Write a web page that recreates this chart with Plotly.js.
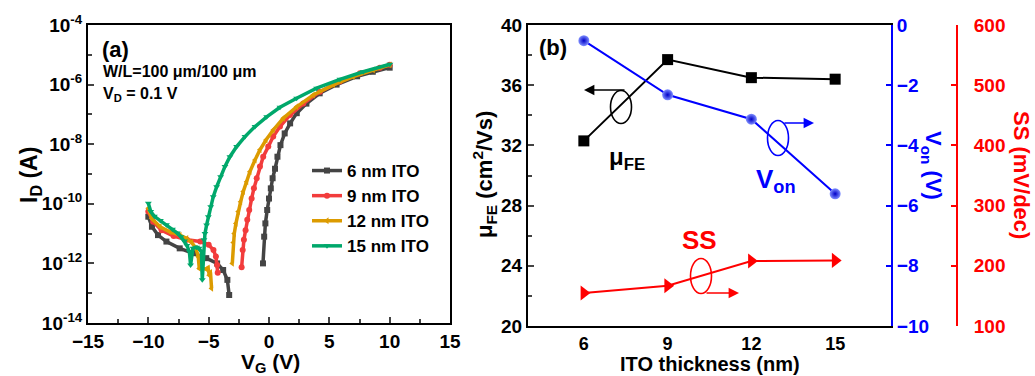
<!DOCTYPE html>
<html><head><meta charset="utf-8">
<script src="https://cdn.plot.ly/plotly-3.0.1.min.js"></script>
<style>html,body{margin:0;padding:0;background:#fff}#c{width:1035px;height:376px}</style>
</head><body><div id="c"></div>
<script>
// ---- Panel (a): transfer curves (VG in V, ID in A) ----
const vg6 = [-10.0,-9.7,-9.2,-8.5,-7.4,-6.3,-5.2,-4.3,-3.8,-3.45,-3.3,null,-0.5,-0.4,-0.3,-0.15,0.0,0.15,0.3,0.5,0.7,0.95,1.3,1.75,2.3,3.1,4.2,5.6,7.3,8.6,10.0];
const id6 = [3.7e-11,1.7e-11,8.9e-12,5.4e-12,3.2e-12,2.2e-12,1.5e-12,1.0e-12,6.0e-13,2.8e-13,8.7e-14,null,1.0e-12,7.9e-12,2.2e-11,6.2e-11,1.5e-10,3.3e-10,7.2e-10,1.5e-9,3.8e-9,9.3e-9,2.3e-8,5.0e-8,1.1e-7,2.3e-7,5.1e-7,1.0e-6,1.9e-6,2.7e-6,3.7e-6];

const vg9 = [-10.0,-9.6,-8.9,-7.9,-6.8,-5.7,-5.0,-4.6,-4.4,-4.3,-4.25,null,-2.27,-2.18,-2.08,-1.94,-1.8,-1.64,-1.44,-1.25,-1.02,-0.75,-0.48,-0.06,0.35,0.91,1.74,2.84,4.22,5.88,7.54,9.19,10.0];
const id9 = [5.5e-11,2.5e-11,1.3e-11,8.3e-12,6.2e-12,5.4e-12,4.2e-12,2.8e-12,1.7e-12,8.9e-13,4.9e-13,null,7.4e-13,2.8e-12,6.2e-12,1.3e-11,2.9e-11,6.2e-11,1.5e-10,3.3e-10,7.2e-10,1.8e-9,3.8e-9,8.3e-9,1.8e-8,3.9e-8,9.5e-8,2.3e-7,5.8e-7,1.26e-6,2.4e-6,3.7e-6,4.6e-6];

const vg12 = [-10.0,-9.72,-9.03,-8.21,-7.38,-6.82,-6.41,-6.05,-5.86,-5.78,-5.2,-5.05,-4.95,-4.85,-4.76,null,-3.04,-2.96,-2.88,-2.74,-2.55,-2.35,-2.13,-1.85,-1.58,-1.16,-0.75,-0.25,0.35,1.18,2.29,3.67,5.33,6.98,8.64,10.02];
const id12 = [7.1e-11,3.2e-11,1.7e-11,1.15e-11,8.9e-12,6.9e-12,5.0e-12,3.2e-12,1.66e-12,6.8e-13,6.5e-13,7.0e-13,4.0e-13,5.0e-13,1.45e-13,null,1.0e-12,5.0e-12,1.0e-11,2.2e-11,5.5e-11,1.17e-10,2.6e-10,5.5e-10,1.2e-9,2.95e-9,6.5e-9,1.38e-8,3.0e-8,7.4e-8,1.8e-7,4.5e-7,9.8e-7,1.86e-6,3.1e-6,4.6e-6];

const vg15 = [-10.0,-9.8,-9.5,-9.0,-8.5,-8.0,-7.6,-7.3,-7.0,-6.8,-6.6,-6.5,-6.3,-6.0,-5.8,-5.6,-5.53,-5.39,-5.31,-5.17,-5.03,-4.83,-4.62,-4.34,-4.01,-3.65,-3.24,-2.68,-1.99,-1.16,-0.19,0.91,2.29,3.95,5.88,7.81,10.02];
const id15 = [1.05e-10,5.5e-11,3.8e-11,2.75e-11,2.0e-11,1.4e-11,1.05e-11,7.9e-12,5.6e-12,4.0e-12,2.5e-12,8.9e-13,3.2e-12,3.5e-12,3.2e-12,2.5e-12,2.8e-13,6.2e-12,1.0e-11,1.95e-11,3.7e-11,7.9e-11,1.74e-10,3.7e-10,8.1e-10,1.8e-9,3.8e-9,8.3e-9,1.8e-8,3.9e-8,8.3e-8,1.74e-7,3.5e-7,7.6e-7,1.5e-6,2.7e-6,4.8e-6];

const seriesNames = ['6 nm ITO','9 nm ITO','12 nm ITO','15 nm ITO'];
const xTicksA = [-15,-10,-5,0,5,10,15];
const yTicksA = [1e-14,1e-12,1e-10,1e-8,1e-6,1e-4];
const yTickTextA = ['10<sup>-14</sup>','10<sup>-12</sup>','10<sup>-10</sup>','10<sup>-8</sup>','10<sup>-6</sup>','10<sup>-4</sup>'];
const yMinorA = [1e-13,1e-11,1e-9,1e-7,1e-5];

// ---- Panel (b): parameters vs ITO thickness ----
const thickness = [6,9,12,15];
const muFE = [32.3,37.7,36.5,36.4];
const Von = [-0.52,-2.32,-3.13,-5.61];
const SS = [155,167,208,209];

const FONT = 'Liberation Sans, Arial, Helvetica, sans-serif';
const f = (size,color) => ({family:FONT,size:size,color:color||'#000',weight:700});

const cols = ['#444444','#f23c3c','#dc9b00','#00a86b'];
const syms = ['square','circle','triangle-left','triangle-down'];
const xs = [vg6,vg9,vg12,vg15], ys = [id6,id9,id12,id15];

const traces = [];
for (let i=0;i<4;i++){
  traces.push({x:xs[i],y:ys[i],name:seriesNames[i],type:'scatter',mode:'lines+markers',
    xaxis:'x',yaxis:'y',connectgaps:false,
    line:{color:cols[i],width:3.5},marker:{symbol:syms[i],size:6,color:cols[i]}});
}
traces.push({x:thickness,y:muFE,xaxis:'x2',yaxis:'y2',type:'scatter',mode:'lines+markers',showlegend:false,
  line:{color:'#000',width:2},marker:{symbol:'square',size:11,color:'#000'}});
traces.push({x:thickness,y:Von,xaxis:'x2',yaxis:'y3',type:'scatter',mode:'lines+markers',showlegend:false,
  line:{color:'#0000ff',width:2},marker:{symbol:'circle',size:11,color:'#8090ff',gradient:{type:'radial',color:'#0000c8'}}});
traces.push({x:thickness,y:SS,xaxis:'x2',yaxis:'y4',type:'scatter',mode:'lines+markers',showlegend:false,
  line:{color:'#ff0000',width:2},marker:{symbol:'triangle-right',size:13,color:'#ff0000'}});

const W=1035,H=376;
const px = v=>v/W, py = v=>1-v/H;

const ann = [];
function A(text,x,y,size,color,opts){ann.push(Object.assign({text:text,x:px(x),y:py(y),xref:'paper',yref:'paper',showarrow:false,font:f(size,color),xanchor:'center',yanchor:'middle'},opts||{}));}
A('I<sub>D</sub> (A)',30,175,23,'#000',{textangle:-90});
A('V<sub>G</sub> (V)',270,363,21);
A('(a)',100,49,22,'#000',{xanchor:'left'});
A('W/L=100 μm/100 μm',101,72,16,'#000',{xanchor:'left'});
A('V<sub>D</sub> = 0.1 V',101,95,16,'#000',{xanchor:'left'});
A('μ<sub>FE</sub> (cm<sup>2</sup>/Vs)',484,175,22,'#000',{textangle:-90});
A('ITO thickness (nm)',710,364,20);
A('V<sub>on</sub> (V)',932,165,22,'#0000ff',{textangle:90});
A('SS (mV/dec)',1022,175,22,'#ff0000',{textangle:90});
A('(b)',537,47,22,'#000',{xanchor:'left'});
A('μ<sub>FE</sub>',627,158,24);
A('V<sub>on</sub>',776,180,26,'#0000ff');
A('SS',699,240,26,'#ff0000');
function ARR(tx,ty,ax,color){ann.push({x:px(tx),y:py(ty),xref:'paper',yref:'paper',ax:ax,ay:0,text:'',showarrow:true,arrowhead:2,arrowsize:1.3,arrowwidth:1.6,arrowcolor:color});}
ARR(584,90,42,'#000');
ARR(814,123,-31,'#0000ff');
ARR(739,293,-34,'#ff0000');

const shp = [];
function E(cx,cy,w,h,color){shp.push({type:'circle',xref:'paper',yref:'paper',x0:px(cx-w/2),x1:px(cx+w/2),y0:py(cy+h/2),y1:py(cy-h/2),line:{color:color,width:1.6}});}
E(621,107,21,33,'#000');
E(778,138,21,35,'#0000ff');
E(701,276,21,35,'#ff0000');

const layout = {
  width:W,height:H,margin:{l:0,r:0,t:0,b:0},paper_bgcolor:'#fff',plot_bgcolor:'#fff',
  font:f(19),showlegend:true,
  legend:{x:px(307),y:py(153),xanchor:'left',yanchor:'top',font:f(17),bgcolor:'rgba(0,0,0,0)',tracegroupgap:0},
  xaxis:{domain:[px(88),px(450)],anchor:'y',range:[-15,15],tickvals:xTicksA,ticks:'inside',ticklen:6,tickwidth:2,
    showline:true,linewidth:2,linecolor:'#000',mirror:true,showgrid:false,zeroline:false,tickfont:f(19),
    minor:{ticks:'inside',ticklen:4,tickwidth:2,dtick:2.5,showgrid:false}},
  yaxis:{domain:[py(323),py(25)],anchor:'x',type:'log',range:[-14,-4],tickvals:yTicksA,ticktext:yTickTextA,
    ticks:'inside',ticklen:6,tickwidth:2,showline:true,linewidth:2,linecolor:'#000',mirror:true,showgrid:false,zeroline:false,tickfont:f(19),
    minor:{ticks:'inside',ticklen:4,tickwidth:2,tickvals:yMinorA,showgrid:false}},
  xaxis2:{domain:[px(528),px(891)],anchor:'y2',range:[4,17],tickvals:thickness,ticks:'',showline:true,linewidth:2,linecolor:'#000',
    mirror:true,showgrid:false,zeroline:false,tickfont:f(18)},
  yaxis2:{domain:[py(326),py(25)],anchor:'x2',range:[20,40],dtick:4,tick0:20,ticks:'inside',ticklen:6,tickwidth:2,showline:true,linewidth:2,
    linecolor:'#000',showgrid:false,zeroline:false,tickfont:f(19),minor:{ticks:'inside',ticklen:4,tickwidth:2,dtick:2,showgrid:false}},
  yaxis3:{overlaying:'y2',anchor:'x2',side:'right',range:[-10,0],dtick:2,ticks:'inside',ticklen:5,tickwidth:2,showline:true,linewidth:2,
    linecolor:'#0000ff',tickcolor:'#0000ff',showgrid:false,zeroline:false,tickfont:f(19,'#0000ff')},
  yaxis4:{overlaying:'y2',anchor:'free',position:px(957),side:'right',range:[100,600],dtick:100,ticks:'inside',ticklen:5,tickwidth:2,showline:true,linewidth:2,
    linecolor:'#ff0000',tickcolor:'#ff0000',showgrid:false,zeroline:false,tickfont:f(19,'#ff0000'),ticklabelstandoff:12},
  annotations:ann,shapes:shp
};
Plotly.newPlot('c',traces,layout,{displayModeBar:false,staticPlot:true});
</script></body></html>
